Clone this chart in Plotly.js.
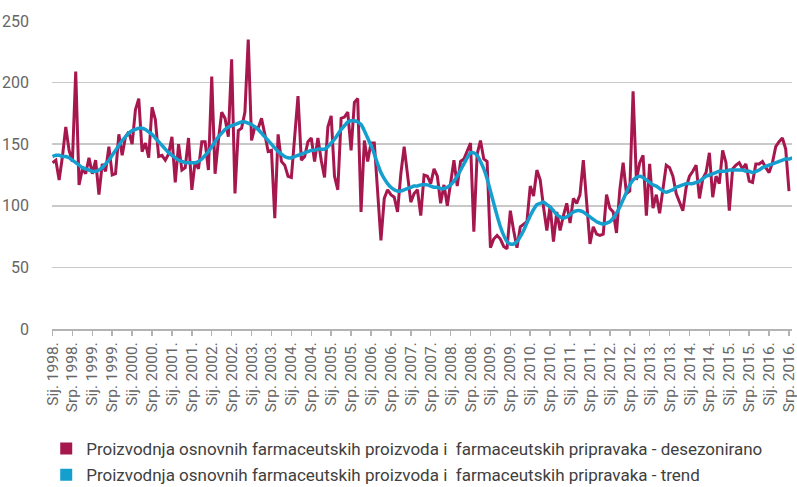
<!DOCTYPE html>
<html>
<head>
<meta charset="utf-8">
<script src="https://cdn.plot.ly/plotly-3.0.1.min.js"></script>
<style>
html,body{margin:0;padding:0;background:#fff;}
#chart{width:797px;height:487px;}
</style>
</head>
<body>
<div id="chart"></div>
<script>
// Monthly, January 1998 – July 2016
const tickLabels = [
  "Sij. 1998.","Srp. 1998.","Sij. 1999.","Srp. 1999.","Sij. 2000.","Srp. 2000.",
  "Sij. 2001.","Srp. 2001.","Sij. 2002.","Srp. 2002.","Sij. 2003.","Srp. 2003.",
  "Sij. 2004.","Srp. 2004.","Sij. 2005.","Srp. 2005.","Sij. 2006.","Srp. 2006.",
  "Sij. 2007.","Srp. 2007.","Sij. 2008.","Srp. 2008.","Sij. 2009.","Srp. 2009.",
  "Sij. 2010.","Srp. 2010.","Sij. 2011.","Srp. 2011.","Sij. 2012.","Srp. 2012.",
  "Sij. 2013.","Srp. 2013.","Sij. 2014.","Srp. 2014.","Sij. 2015.","Srp. 2015.",
  "Sij. 2016.","Srp. 2016."
];

const desezonirano = [
  135,137,121,140,164,145,136,209,117,130,
  126,139,126,137,109,134,128,148,125,126,
  158,141,156,160,150,178,187,144,151,139,
  180,170,140,141,137,142,156,119,150,129,
  131,155,113,136,130,152,152,129,205,126,
  153,176,171,156,219,110,161,163,176,235,
  153,164,163,171,158,144,145,90,158,136,
  133,124,123,156,189,137,140,152,155,136,
  155,137,123,164,173,124,113,171,172,176,
  145,184,187,95,153,136,151,151,110,72,
  106,113,109,107,95,126,148,126,103,110,
  113,92,125,124,118,130,124,102,117,100,
  120,137,116,136,138,144,151,79,142,153,
  138,136,66,73,76,73,67,65,96,80,
  66,83,85,87,116,108,129,121,99,80,
  100,71,95,80,92,102,86,106,102,109,
  137,102,69,83,77,76,77,109,98,95,
  78,113,135,110,112,193,121,135,141,92,
  134,98,109,94,114,133,131,124,110,103,
  96,115,124,128,133,106,122,127,143,107,
  124,118,145,135,96,130,133,135,130,134,
  120,119,134,134,136,131,127,135,148,152,
  155,146,112
];

const trend = [
  140,141,141,140,140,139,
  137,135,133,131,130,129,128,128,
  129,131,134,137,141,145,149,153,156,159,161,162,163,163,
  162,160,158,155,152,149,146,143,141,139,137,136,135,135,
  135,135,136,138,141,144,148,152,156,159,162,164,165,166,167,168,168,167,166,164,
  162,159,156,153,150,147,144,142,140,139,
  139,140,141,142,143,144,145,145,146,146,146,
  148,151,154,158,162,165,168,169,169,168,166,
  161,155,149,142,134,127,122,118,115,113,112,
  112,113,114,115,116,116,117,117,117,116,115,115,
  114,114,115,117,120,124,129,134,139,
  143,143,141,136,130,122,112,102,92,83,76,71,69,
  69,71,75,80,86,92,97,101,
  102,103,101,99,96,93,91,90,91,93,95,96,
  96,95,93,91,89,87,86,85,86,87,90,94,99,
  105,111,117,121,123,124,123,121,119,117,
  116,114,112,111,112,113,115,116,117,118,118,118,119,120,
  122,124,125,126,127,128,128,128,129,129,129,129,129,128,128,127,
  128,129,131,132,133,134,135,136,137,138,138,139
];

const seriesNames = [
  "Proizvodnja osnovnih farmaceutskih proizvoda i \u00a0farmaceutskih pripravaka - desezonirano",
  "Proizvodnja osnovnih farmaceutskih proizvoda i \u00a0farmaceutskih pripravaka - trend"
];

const colDes = "#A6174E";
const colTrend = "#159FCF";
const FONT = "Roboto, 'Liberation Sans', sans-serif";

const xIdx = desezonirano.map((_, i) => i);
const xTrend = trend.map((_, i) => i);
const tickVals = tickLabels.map((_, k) => k * 6);

const traces = [
  {type:"scatter", mode:"lines", x:xIdx, y:desezonirano, showlegend:false,
   line:{color:colDes, width:3, shape:"linear"}, hoverinfo:"skip"},
  {type:"scatter", mode:"lines", x:xTrend, y:trend, showlegend:false,
   line:{color:colTrend, width:3.5, shape:"spline", smoothing:0.6}, hoverinfo:"skip"},
  {type:"bar", x:[null], y:[null], name:seriesNames[0], marker:{color:colDes}, legendgroup:"a"},
  {type:"bar", x:[null], y:[null], name:seriesNames[1], marker:{color:colTrend}, legendgroup:"b"}
];

const layout = {
  width:797, height:487,
  margin:{l:52, r:5, t:21, b:158, autoexpand:false},
  paper_bgcolor:"#fff", plot_bgcolor:"#fff",
  font:{family:FONT, color:"#595959", size:15},
  showlegend:true,
  legend:{orientation:"v", x:0.058, xanchor:"left", y:0.115, yanchor:"top",
          xref:"container", yref:"container",
          font:{family:FONT, size:17, color:"#404040"},
          tracegroupgap:1, bgcolor:"rgba(0,0,0,0)"},
  xaxis:{
    type:"linear",
    range:[-0.15, desezonirano.length - 0.1],
    tickmode:"array", tickvals:tickVals, ticktext:tickLabels,
    tickangle:-90, ticks:"outside", ticklen:5, tickwidth:1.5, tickcolor:"#b3b3b3",
    ticklabeloverflow:"allow",
    showline:true, linecolor:"#b3b3b3", linewidth:2,
    showgrid:false, zeroline:false,
    tickfont:{family:FONT, size:15.5, color:"#666"}
  },
  yaxis:{
    type:"linear",
    range:[0, 250], dtick:50, tick0:0,
    showgrid:true, gridcolor:"#c9c9c9", gridwidth:1.5,
    showline:false, zeroline:false, ticks:"",
    ticklabelstandoff:22,
    tickfont:{family:FONT, size:16, color:"#666"}
  }
};

Plotly.newPlot("chart", traces, layout, {displayModeBar:false, staticPlot:true});
</script>
</body>
</html>
